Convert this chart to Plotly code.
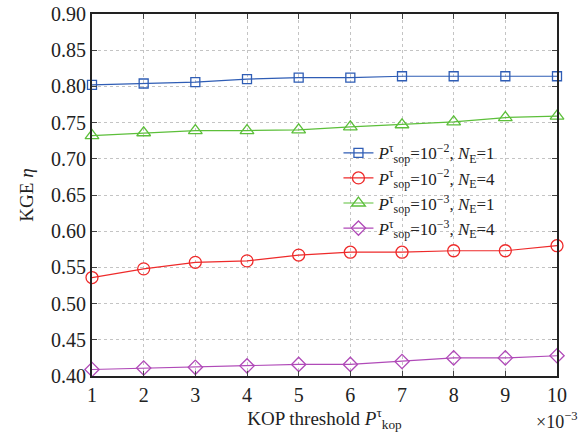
import plotly.graph_objects as go

x_vals = [1, 2, 3, 4, 5, 6, 7, 8, 9, 10]
blue_vals = [0.802, 0.804, 0.806, 0.810, 0.812, 0.812, 0.814, 0.814, 0.814, 0.814]
red_vals = [0.536, 0.548, 0.557, 0.559, 0.567, 0.571, 0.571, 0.573, 0.573, 0.580]
green_vals = [0.732, 0.736, 0.739, 0.739, 0.740, 0.744, 0.747, 0.751, 0.757, 0.759]
purple_vals = [0.409, 0.411, 0.412, 0.414, 0.416, 0.416, 0.420, 0.425, 0.425, 0.428]

names = [
    "<i>P</i><sup>τ</sup><sub>sop</sub>=10<sup>−2</sup>, <i>N</i><sub>E</sub>=1",
    "<i>P</i><sup>τ</sup><sub>sop</sub>=10<sup>−2</sup>, <i>N</i><sub>E</sub>=4",
    "<i>P</i><sup>τ</sup><sub>sop</sub>=10<sup>−3</sup>, <i>N</i><sub>E</sub>=1",
    "<i>P</i><sup>τ</sup><sub>sop</sub>=10<sup>−3</sup>, <i>N</i><sub>E</sub>=4",
]
series = [blue_vals, red_vals, green_vals, purple_vals]
colors = ["#2f5db5", "#ee2a2a", "#5cbf3a", "#b04ab8"]
symbols = ["square-open", "circle-open", "triangle-up-open", "diamond-open"]
sizes = [9, 12, 12, 11]

fig = go.Figure()
for ys, nm, c, s, sz in zip(series, names, colors, symbols, sizes):
    fig.add_trace(go.Scatter(
        x=x_vals, y=ys, name=nm, mode="lines+markers",
        line=dict(color=c, width=1.2),
        marker=dict(symbol=s, size=sz, color=c, line=dict(color=c, width=1.3)),
        cliponaxis=False,
    ))

font_family = "Liberation Serif, Times New Roman, serif"
fig.update_layout(
    width=579, height=432,
    margin=dict(l=92, r=22, t=14, b=56),
    paper_bgcolor="white", plot_bgcolor="white",
    font=dict(family=font_family, size=20, color="#222"),
    showlegend=True,
    legend=dict(x=0.53, y=0.665, xanchor="left", yanchor="top",
                bgcolor="rgba(255,255,255,0)", borderwidth=0,
                font=dict(size=17), tracegroupgap=0),
    xaxis=dict(range=[1, 10], tickvals=x_vals, ticks="inside", ticklen=5,
               automargin=False,
               showline=True, linecolor="#222", linewidth=1.8, mirror="ticks",
               showgrid=True, gridcolor="#c4c4c4", griddash="dot", gridwidth=1,
               zeroline=False, tickfont=dict(size=20),
               title=dict(text="KOP threshold <i>P</i><sup>τ</sup><sub>kop</sub>",
                          font=dict(size=19), standoff=3)),
    yaxis=dict(range=[0.40, 0.90], dtick=0.05, tickformat=".2f",
               ticks="inside", ticklen=5, automargin=False,
               showline=True, linecolor="#222", linewidth=1.8, mirror="ticks",
               showgrid=True, gridcolor="#c4c4c4", griddash="dot", gridwidth=1,
               zeroline=False, tickfont=dict(size=20),
               title=dict(text="KGE <i>η</i>", font=dict(size=19), standoff=12)),
)
fig.add_annotation(x=1.0, y=-0.085, xref="paper", yref="paper",
                   text="×10<sup>−3</sup>", showarrow=False,
                   xanchor="center", yanchor="top", font=dict(size=18))
fig.write_html("out.html", config={"displayModeBar": False},
               post_script="document.body.style.margin='0';")
